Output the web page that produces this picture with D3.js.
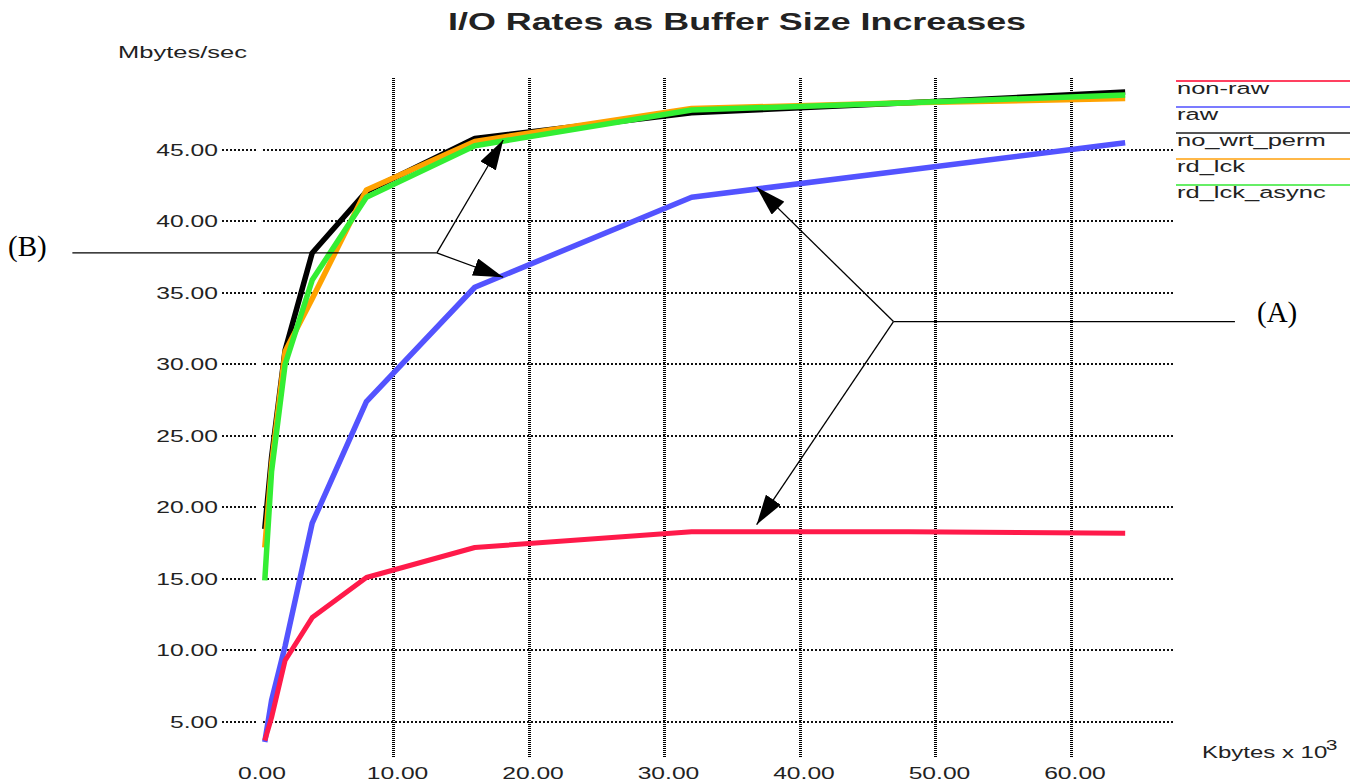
<!DOCTYPE html>
<html>
<head>
<meta charset="utf-8">
<script src="https://cdn.jsdelivr.net/npm/d3@7"></script>
<style>
  body { margin: 0; background: #fff; }
  text { font-family: "Liberation Sans", Arial, sans-serif; fill: #222; }
</style>
</head>
<body>
<div id="chart"></div>
<script>
// buffer sizes (Kbytes x 10^3) and rates (Mbytes/sec)
const bufferKB = [0.5, 1, 2, 4, 8, 16, 32, 48, 64];
const nonRaw = [3.7, 5.3, 9.3, 12.3, 15.1, 17.2, 18.3, 18.3, 18.2];
const raw = [3.6, 6.5, 10.3, 18.9, 27.4, 35.4, 41.7, 43.6, 45.5];
const noWrtPerm = [18.5, 23.5, 31.0, 37.8, 42.1, 45.8, 47.6, 48.3, 49.05];
const rdLck = [17.2, 23.0, 30.9, 34.6, 42.2, 45.6, 47.9, 48.3, 48.6];
const rdLckAsync = [14.9, 22.5, 30.0, 35.9, 41.7, 45.3, 47.8, 48.3, 48.85];

const seriesNames = ["non-raw", "raw", "no_wrt_perm", "rd_lck", "rd_lck_async"];
const yTicks = [5, 10, 15, 20, 25, 30, 35, 40, 45];
const xTicks = [0, 10, 20, 30, 40, 50, 60];

const width = 1359, height = 783;
const stretch = 1.5; // the old screen font is wide

const colors = {
  "non-raw": "#ff1a4a",
  "raw": "#5353ff",
  "no_wrt_perm": "#000000",
  "rd_lck": "#ffa200",
  "rd_lck_async": "#33ee33"
};
const legendColors = {
  "non-raw": "#ff4060",
  "raw": "#7b7bff",
  "no_wrt_perm": "#555555",
  "rd_lck": "#ffb848",
  "rd_lck_async": "#66ee66"
};

const values = {
  "non-raw": nonRaw,
  "raw": raw,
  "no_wrt_perm": noWrtPerm,
  "rd_lck": rdLck,
  "rd_lck_async": rdLckAsync
};

const x = d3.scaleLinear().domain([0, 67.5]).range([258, 1172.6]);
const y = d3.scaleLinear().domain([2.5, 50]).range([757.7, 78.5]);

const svg = d3.select("#chart")
  .append("svg")
  .attr("width", width)
  .attr("height", height);

svg.append("rect").attr("width", width).attr("height", height).attr("fill", "#fff");

// stretched text helper
function wideText(g, str, px, py, anchor, size, weight, sx) {
  return g.append("text")
    .attr("transform", `translate(${px},${py}) scale(${sx || stretch},1)`)
    .attr("text-anchor", anchor || "start")
    .style("font-size", (size || 17) + "px")
    .style("font-weight", weight || "normal")
    .text(str);
}

// title and axis names
wideText(svg, "I/O Rates as Buffer Size Increases", 737, 30, "middle", 23, "bold", 1.56);
wideText(svg, "Mbytes/sec", 118, 58, "start");
const kb = wideText(svg, "Kbytes x 10", 1202, 758, "start", 16);
kb.append("tspan").attr("dy", -8).attr("dx", -1).style("font-size", "14px").text("3");

// horizontal dotted grid: small tick part + long part
const hGrid = svg.append("g").attr("shape-rendering", "crispEdges");
const ry = d => Math.round(y(d));
hGrid.selectAll("line.tick")
  .data(yTicks)
  .join("line")
  .attr("x1", 222).attr("x2", 257)
  .attr("y1", ry).attr("y2", ry);
hGrid.selectAll("line.grid")
  .data(yTicks)
  .join("line")
  .attr("x1", 263).attr("x2", 1173)
  .attr("y1", ry).attr("y2", ry);
hGrid.selectAll("line")
  .attr("stroke", "#111")
  .attr("stroke-width", 2)
  .attr("stroke-dasharray", "2,2");

// vertical dotted grid
svg.append("g")
  .attr("shape-rendering", "crispEdges")
  .selectAll("line")
  .data(xTicks.filter(d => d > 0))
  .join("line")
  .attr("x1", d => Math.round(x(d)) + 0.5).attr("x2", d => Math.round(x(d)) + 0.5)
  .attr("y1", 78).attr("y2", 757)
  .attr("stroke", "#000")
  .attr("stroke-width", 3)
  .attr("stroke-dasharray", "1,1");

// y tick labels
const yLab = svg.append("g");
yTicks.forEach(t => {
  wideText(yLab, d3.format(".2f")(t), 218, y(t) + 6, "end", 17, "normal", 1.45);
});

// x tick labels
const xLab = svg.append("g");
xTicks.forEach(t => {
  wideText(xLab, d3.format(".2f")(t), x(t) + 4, 779, "middle", 17, "normal", 1.45);
});

// the curves
const line = d3.line()
  .x(d => x(d[0]))
  .y(d => y(d[1]));

const drawOrder = ["raw", "non-raw", "no_wrt_perm", "rd_lck", "rd_lck_async"];
svg.append("g")
  .selectAll("path")
  .data(drawOrder)
  .join("path")
  .attr("d", name => line(bufferKB.map((b, i) => [b, values[name][i]])))
  .attr("fill", "none")
  .attr("stroke", name => colors[name])
  .attr("stroke-width", name => name === "non-raw" ? 5 : 5.5)
  .attr("stroke-linejoin", "round");

// legend
const legend = svg.append("g");
seriesNames.forEach((name, i) => {
  const ly = 81 + i * 26;
  legend.append("line")
    .attr("x1", 1176).attr("x2", 1350)
    .attr("y1", ly).attr("y2", ly)
    .attr("stroke", legendColors[name])
    .attr("stroke-width", 2);
  wideText(legend, name, 1177, ly + 13, "start", 17);
});

// annotations (A) and (B) - positions in data units
const annoB = { start: [-13.7, 37.8], knee: [13.2, 37.8], tips: [[18.1, 45.7], [18.1, 36.1]] };
const annoA = { start: [72.1, 33.0], knee: [46.9, 33.0], tips: [[36.8, 42.4], [36.8, 18.8]] };

svg.append("defs").append("marker")
  .attr("id", "head")
  .attr("markerUnits", "userSpaceOnUse")
  .attr("viewBox", "0 0 30 18")
  .attr("refX", 30).attr("refY", 9)
  .attr("markerWidth", 30).attr("markerHeight", 18)
  .attr("orient", "auto")
  .append("path")
  .attr("d", "M0,0 L30,9 L0,18 Z")
  .attr("fill", "#000");

const anno = svg.append("g");
[annoB, annoA].forEach(a => {
  anno.append("line")
    .attr("x1", x(a.start[0])).attr("y1", y(a.start[1]))
    .attr("x2", x(a.knee[0])).attr("y2", y(a.knee[1]))
    .attr("stroke", "#000").attr("stroke-width", 1.3);
  a.tips.forEach(t => {
    anno.append("line")
      .attr("x1", x(a.knee[0])).attr("y1", y(a.knee[1]))
      .attr("x2", x(t[0])).attr("y2", y(t[1]))
      .attr("stroke", "#000").attr("stroke-width", 1.3)
      .attr("marker-end", "url(#head)");
  });
});
anno.append("text")
  .attr("x", 8).attr("y", 256)
  .style("font-family", "'Liberation Serif', 'Times New Roman', serif")
  .style("font-size", "29px").style("fill", "#000")
  .text("(B)");
anno.append("text")
  .attr("x", 1257).attr("y", 322)
  .style("font-family", "'Liberation Serif', 'Times New Roman', serif")
  .style("font-size", "29px").style("fill", "#000")
  .text("(A)");
</script>
</body>
</html>
